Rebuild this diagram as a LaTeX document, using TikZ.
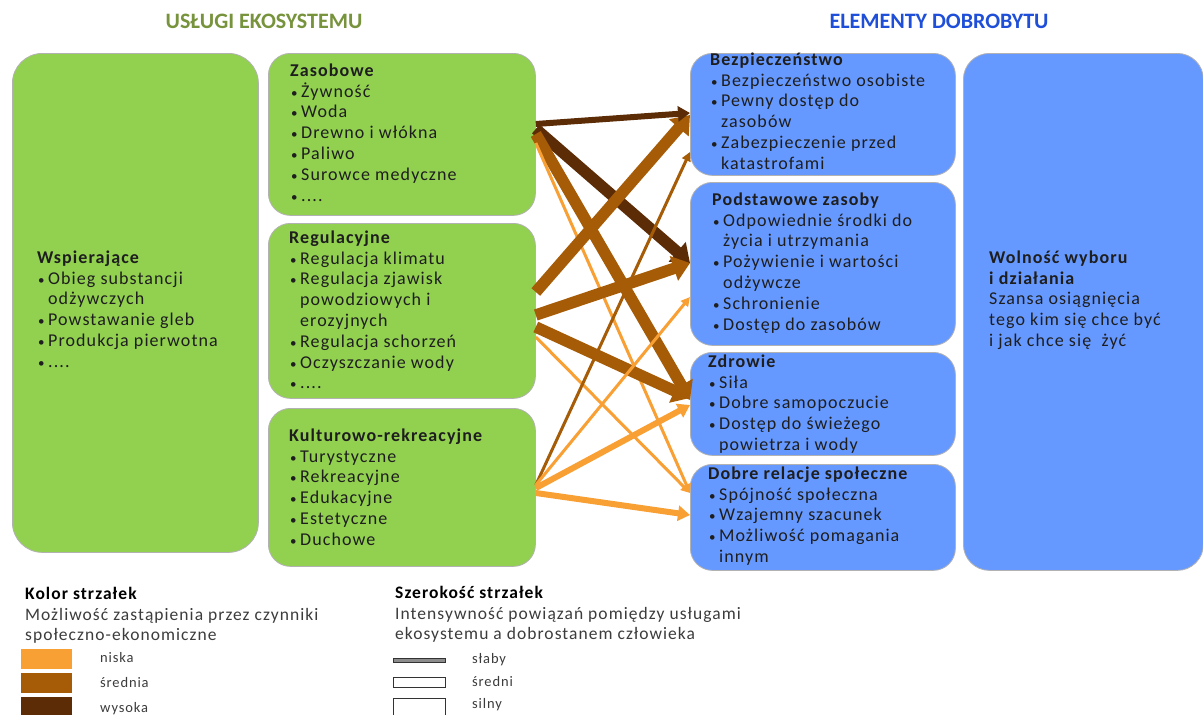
\documentclass[tikz,border=0pt]{standalone}
\usepackage{fontspec}
\setmainfont{Carlito}
\newfontfamily\bodyfont[LetterSpace=6]{Carlito}
\usetikzlibrary{arrows.meta,calc}

\definecolor{boxgreen}{HTML}{92D050}
\definecolor{boxblue}{HTML}{6699FF}
\definecolor{titlegreen}{HTML}{77933C}
\definecolor{titleblue}{HTML}{1F4FD8}
\definecolor{arrlow}{HTML}{F9A035}
\definecolor{arrmid}{HTML}{A65C06}
\definecolor{arrhigh}{HTML}{5B2C06}
\definecolor{bodytxt}{HTML}{1E1E1E}
\definecolor{legtxt}{HTML}{3C3C3C}

% bullet, hanging indent and a fixed first-line height for list texts
\newcommand\bul{\makebox[11pt][l]{\hspace*{1pt}{\fontsize{13}{13}\selectfont\textbullet}}}
\newcommand\ind{\hspace*{11pt}}
\newcommand\fl{\rule{0pt}{16pt}}

\tikzset{
  box/.style={rounded corners=22pt, draw=black!30, line width=0.8pt,
    inner sep=0pt, anchor=north west},
  gbox/.style={box, fill=boxgreen},
  bbox/.style={box, fill=boxblue},
  list/.style={align=left, inner sep=0pt, anchor=north west, text=bodytxt,
    font=\bodyfont\fontsize{18}{20.8}\selectfont},
  title/.style={inner sep=0pt, font=\fontsize{22}{24}\selectfont\bfseries},
  leghead/.style={inner sep=0pt, anchor=base west, text=black,
    font=\bodyfont\fontsize{17.5}{20}\selectfont\bfseries},
  legtext/.style={align=left, inner sep=0pt, anchor=north west, text=legtxt,
    font=\bodyfont\fontsize{17.5}{20}\selectfont},
  legsmall/.style={inner sep=0pt, anchor=base west, text=legtxt,
    font=\bodyfont\fontsize{14.5}{16}\selectfont},
  swatch/.style={inner sep=0pt, anchor=north west, minimum width=51pt,
    minimum height=20pt},
  widthbar/.style={inner sep=0pt, anchor=north west, minimum width=52pt,
    draw=black!80, line width=1.3pt, fill=white},
  thickarr/.style={line width=11.5pt, -{Triangle[length=17pt,width=25pt]}},
  medarr/.style={line width=6pt, -{Triangle[length=12pt,width=15pt]}},
  thinarr/.style={line width=3pt, -{Triangle[length=9pt,width=9pt]}},
}

\begin{document}
\begin{tikzpicture}[x=1pt,y=-1pt]
\useasboundingbox (0,0) rectangle (1203,715);
\fill[white] (0,0) rectangle (1203,715);

% column titles
\node[title, text=titlegreen] (tus) at (264,21) {USŁUGI EKOSYSTEMU};
\node[title, text=titleblue] (tel) at (939,21) {ELEMENTY DOBROBYTU};

% ecosystem services
\node[gbox, rounded corners=30pt, minimum width=246pt, minimum height=499pt] (wsp) at (12,53) {};
\node[gbox, minimum width=267pt, minimum height=162pt] (zas) at (268,53) {};
\node[gbox, minimum width=267pt, minimum height=175pt] (reg) at (268,223) {};
\node[gbox, minimum width=267pt, minimum height=158pt] (kul) at (268,408) {};

% well-being elements
\node[bbox, minimum width=265pt, minimum height=122pt] (bez) at (690,53) {};
\node[bbox, minimum width=265pt, minimum height=163pt] (pod) at (690,182) {};
\node[bbox, minimum width=265pt, minimum height=103pt] (zdr) at (690,352) {};
\node[bbox, minimum width=265pt, minimum height=106pt] (dob) at (690,464) {};
\node[bbox, rounded corners=26pt, minimum width=240pt, minimum height=517pt] (wol) at (963,53) {};

% box texts (first baseline 16pt below the anchor)
\node[list] (wsp-t) at (37,247) {\fl\textbf{Wspierające}\\
  \bul Obieg substancji\\ \ind odżywczych\\ \bul Powstawanie gleb\\
  \bul Produkcja pierwotna\\ \bul ....};
\node[list] (zas-t) at (290,60) {\fl\textbf{Zasobowe}\\
  \bul Żywność\\ \bul Woda\\ \bul Drewno i włókna\\ \bul Paliwo\\
  \bul Surowce medyczne\\ \bul ....};
\node[list] (reg-t) at (289,227) {\fl\textbf{Regulacyjne}\\
  \bul Regulacja klimatu\\ \bul Regulacja zjawisk\\ \ind powodziowych i\\
  \ind erozyjnych\\ \bul Regulacja schorzeń\\ \bul Oczyszczanie wody\\ \bul ....};
\node[list] (kul-t) at (289,425) {\fl\textbf{Kulturowo-rekreacyjne}\\
  \bul Turystyczne\\ \bul Rekreacyjne\\ \bul Edukacyjne\\ \bul Estetyczne\\
  \bul Duchowe};
\node[list] (bez-t) at (710,49) {\fl\textbf{Bezpieczeństwo}\\
  \bul Bezpieczeństwo osobiste\\ \bul Pewny dostęp do\\ \ind zasobów\\
  \bul Zabezpieczenie przed\\ \ind katastrofami};
\node[list] (pod-t) at (712,189) {\fl\textbf{Podstawowe zasoby}\\
  \bul Odpowiednie środki do\\ \ind życia i utrzymania\\
  \bul Pożywienie i wartości\\ \ind odżywcze\\ \bul Schronienie\\
  \bul Dostęp do zasobów};
\node[list] (zdr-t) at (708,351) {\fl\textbf{Zdrowie}\\
  \bul Siła\\ \bul Dobre samopoczucie\\ \bul Dostęp do świeżego\\
  \ind powietrza i wody};
\node[list] (dob-t) at (708,463) {\fl\textbf{Dobre relacje społeczne}\\
  \bul Spójność społeczna\\ \bul Wzajemny szacunek\\
  \bul Możliwość pomagania\\ \ind innym};
\node[list] (wol-t) at (989,247) {\fl\textbf{Wolność wyboru}\\ \textbf{i działania}\\
  Szansa osiągnięcia\\ tego kim się chce być\\ i jak chce się\ \ żyć};

% links between services and well-being
\draw[thickarr, arrhigh] ($(zas.north east)+(0,76)$) -- ($(pod.north west)+(0,81)$);
\draw[thickarr, arrmid] ($(zas.north east)+(0,81)$) -- ($(zdr.north west)+(0,48)$);
\draw[thinarr, arrlow] ($(zas.north east)+(0,90)$) -- ($(dob.north west)+(0,29)$);
\draw[thickarr, arrmid] ($(reg.north east)+(0,69)$) -- ($(bez.north west)+(0,62)$);
\draw[thickarr, arrmid] ($(reg.north east)+(0,92)$) -- ($(pod.north west)+(0,81)$);
\draw[thickarr, arrmid] ($(reg.north east)+(0,104)$) -- ($(zdr.north west)+(0,46)$);
\draw[thinarr, arrlow] ($(reg.north east)+(0,114)$) -- ($(dob.north west)+(0,29)$);
\draw[thinarr, arrmid] ($(kul.north east)+(0,77)$) -- ($(bez.north west)+(0,99)$);
\draw[thinarr, arrlow] ($(kul.north east)+(0,77)$) -- ($(pod.north west)+(0,115)$);
\draw[medarr, arrlow] ($(kul.north east)+(0,80)$) -- ($(zdr.north west)+(0,53)$);
\draw[medarr, arrlow] ($(kul.north east)+(0,85)$) -- ($(dob.north west)+(0,51)$);
\draw[medarr, arrhigh] ($(zas.north east)+(0,71)$) -- ($(bez.north west)+(0,60)$);

% legend: arrow colour
\node[leghead] (lk) at (25,599) {Kolor strzałek};
\node[legtext] (lkt) at (25,604) {\fl Możliwość zastąpienia przez czynniki\\społeczno-ekonomiczne};
\node[swatch, fill=arrlow] (sw1) at (21,649) {};
\node[swatch, fill=arrmid] (sw2) at (21,673) {};
\node[swatch, fill=arrhigh] (sw3) at (21,697) {};
\node[legsmall] (sw1-l) at (100,662) {niska};
\node[legsmall] (sw2-l) at (100,687) {średnia};
\node[legsmall] (sw3-l) at (100,712) {wysoka};

% legend: arrow width
\node[leghead] (ls) at (395,598) {Szerokość strzałek};
\node[legtext] (lst) at (395,603) {\fl Intensywność powiązań pomiędzy usługami\\ekosystemu a dobrostanem człowieka};
\node[widthbar, minimum height=4pt, fill=black!45] (wb1) at (393,658) {};
\node[widthbar, minimum height=10pt] (wb2) at (393,677) {};
\node[widthbar, minimum height=17pt] (wb3) at (393,698) {};
\node[legsmall] (wb1-l) at (472,663) {słaby};
\node[legsmall] (wb2-l) at (472,686) {średni};
\node[legsmall] (wb3-l) at (472,708) {silny};
\end{tikzpicture}
\end{document}
